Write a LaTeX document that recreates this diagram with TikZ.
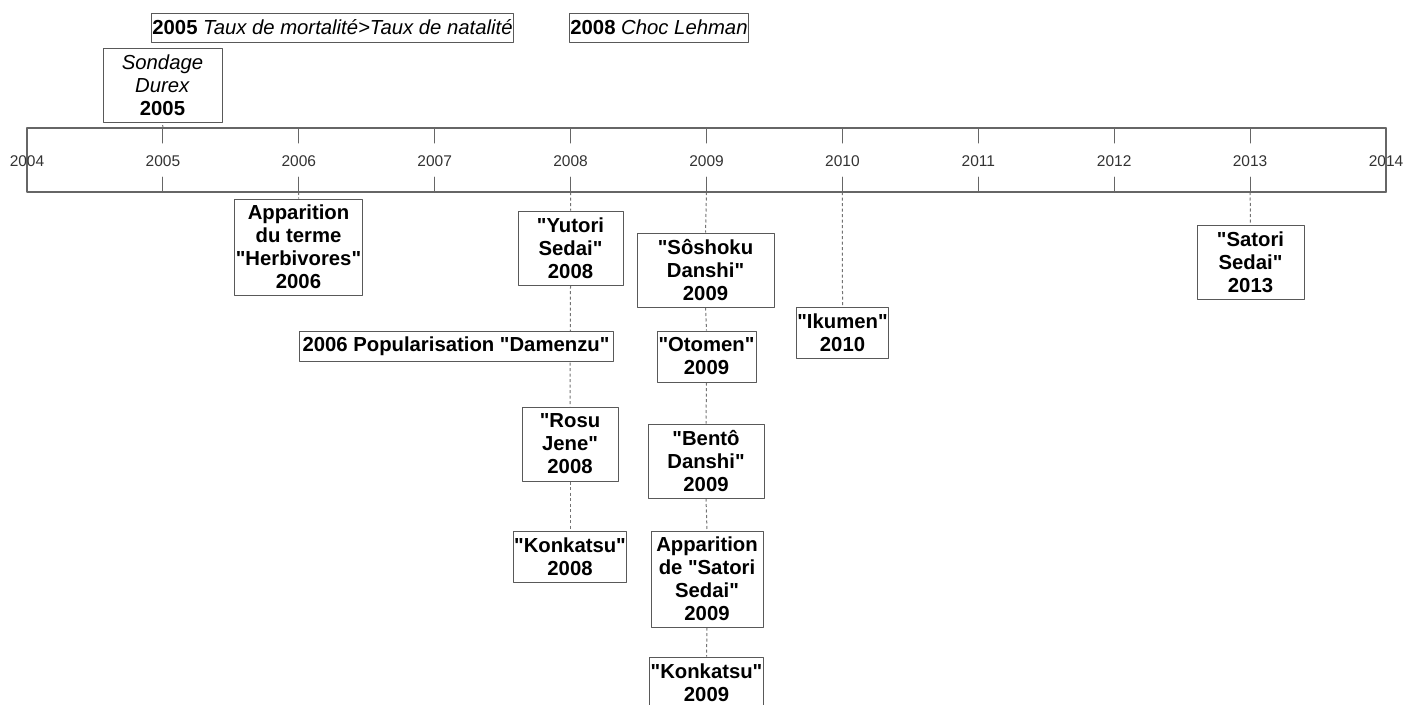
\documentclass[tikz,border=0pt]{standalone}
\usepackage{fontspec}
\setmainfont{Liberation Sans}[Ligatures=TeXOff]
\usetikzlibrary{backgrounds}

\begin{document}
\begin{tikzpicture}[x=1pt,y=-1pt,line cap=round,line join=round,
    box/.style={draw=black!65,fill=white,line width=1pt,inner sep=1pt,align=center,font=\fontsize{20.3}{23}\selectfont\bfseries},
    plainbox/.style={box,font=\fontsize{20.3}{23}\selectfont},
    link/.style={draw=black!55,dash pattern=on 3pt off 2.5pt,line width=1pt},
    yearlbl/.style={font=\fontsize{15.5}{18}\selectfont,text=black!80}]
  \useasboundingbox (0,0) rectangle (1407,704);
  % axe du temps
  \draw[black!60,line width=1.2pt] (27,128) rectangle (1386,192);
  \foreach \yr [count=\i from 0] in {2004,...,2014} {
    \coordinate (t\yr) at (27+135.9*\i,128);
    \coordinate (b\yr) at (27+135.9*\i,192);
    \draw[black!60,line width=1pt] (t\yr) -- ++(0,15);
    \draw[black!60,line width=1pt] (b\yr) -- ++(0,-15);
    \node[yearlbl] (y\yr) at (27+135.9*\i,161) {\yr};
  }

  % au-dessus de l'axe
  \node[plainbox,minimum width=361pt,minimum height=29pt] (taux) at (332.5,27.5) {\textbf{2005} \textit{Taux de mortalité>Taux de natalité}};
  \node[plainbox,minimum width=176pt,minimum height=29pt] (lehman) at (659,27.5) {\textbf{2008} \textit{Choc Lehman}};
  \node[plainbox,minimum width=119pt,minimum height=74pt] (durex) at (162.5,85) {\textit{Sondage}\\\textit{Durex}\\\textbf{2005}};

  % en dessous
  \node[box,minimum width=125pt,minimum height=96pt] (herbi) at (298.5,247) {Apparition\\du terme\\"Herbivores"\\2006};
  \node[box,minimum width=105pt,minimum height=74pt] (yutori) at (570.5,248) {"Yutori\\Sedai"\\2008};
  \node[box,minimum width=314pt,minimum height=30pt] (damenzu) at (456,346) {2006 Popularisation "Damenzu"};
  \node[box,minimum width=96pt,minimum height=74pt] (rosu) at (570,444) {"Rosu\\Jene"\\2008};
  \node[box,minimum width=112pt,minimum height=51pt] (konk8) at (570,556.5) {"Konkatsu"\\2008};
  \node[box,minimum width=137pt,minimum height=74pt] (soshoku) at (705.5,270) {"Sôshoku\\Danshi"\\2009};
  \node[box,minimum width=99pt,minimum height=51pt] (otomen) at (706.5,356.5) {"Otomen"\\2009};
  \node[box,minimum width=116pt,minimum height=74pt] (bento) at (706,461) {"Bentô\\Danshi"\\2009};
  \node[box,minimum width=112pt,minimum height=96pt] (satori9) at (707,579) {Apparition\\de "Satori\\Sedai"\\2009};
  \node[box,minimum width=113pt,minimum height=51pt] (konk9) at (706.5,682.5) {"Konkatsu"\\2009};
  \node[box,minimum width=91pt,minimum height=51pt] (ikumen) at (842.5,332.5) {"Ikumen"\\2010};
  \node[box,minimum width=107pt,minimum height=74pt] (satori13) at (1250.5,262) {"Satori\\Sedai"\\2013};

  \begin{scope}[on background layer]
    \draw[link] (t2005) -- (durex.south);
    \draw[link] (b2006) -- (herbi.north);
    \draw[link] (b2008) -- (yutori.north);
    \draw[link] (yutori.south) -- (rosu.north);
    \draw[link] (rosu.south) -- (konk8.north);
    \draw[link] (b2009) -- (soshoku.north);
    \draw[link] (soshoku.south) -- (otomen.north);
    \draw[link] (otomen.south) -- (bento.north);
    \draw[link] (bento.south) -- (satori9.north);
    \draw[link] (satori9.south) -- (konk9.north);
    \draw[link] (b2010) -- (ikumen.north);
    \draw[link] (b2013) -- (satori13.north);
  \end{scope}
\end{tikzpicture}
\end{document}
